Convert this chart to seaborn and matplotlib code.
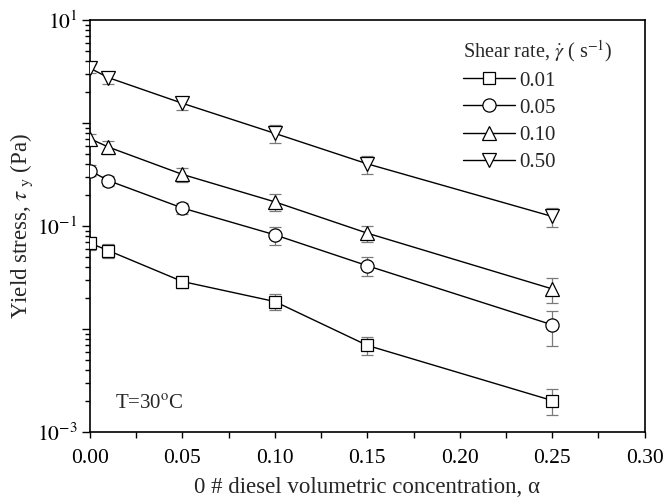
import numpy as np
import pandas as pd
import matplotlib
matplotlib.use("Agg")
import matplotlib.pyplot as plt
import seaborn as sns
from matplotlib.ticker import FixedLocator, FuncFormatter, MultipleLocator, LogLocator, NullFormatter

# ---- data ----
alpha = [0.00, 0.01, 0.05, 0.10, 0.15, 0.25]
rates = ["0.01", "0.05", "0.10", "0.50"]
tau_001 = [0.068, 0.0575, 0.0288, 0.0184, 0.0069, 0.00201]
tau_005 = [0.344, 0.275, 0.149, 0.0818, 0.041, 0.01093]
tau_010 = [0.703, 0.582, 0.316, 0.171, 0.0849, 0.0244]
tau_050 = [3.40, 2.75, 1.55, 0.791, 0.40, 0.1233]
err_001 = [0.010, 0.0085, 0.004, 0.0033, 0.00135, 0.00057]
err_005 = [0.042, 0.031, 0.019, 0.0165, 0.0085, 0.0041]
err_010 = [0.08, 0.085, 0.05, 0.032, 0.015, 0.0065]
err_050 = [0.35, 0.35, 0.22, 0.16, 0.08, 0.026]
x_ticks = [0.00, 0.05, 0.10, 0.15, 0.20, 0.25, 0.30]
y_decades = [-3, -2, -1, 0, 1]

series = [tau_001, tau_005, tau_010, tau_050]
errors = [err_001, err_005, err_010, err_050]
markers = ["s", "o", "^", "v"]
msizes = [8.5, 9.5, 10, 10]

sns.set_theme(style="ticks")
plt.rcParams.update({
    "font.family": ["Liberation Serif", "DejaVu Serif"],
    "mathtext.fontset": "stix",
    "axes.edgecolor": "black",
    "axes.linewidth": 1.2,
    "xtick.color": "black",
    "ytick.color": "black",
})

fig = plt.figure(figsize=(6.66, 4.98), dpi=100)
ax = fig.add_axes([0.135, 0.133, 0.833, 0.827])
ax.set_yscale("log")

for lab, y, e, m, ms in zip(rates, series, errors, markers, msizes):
    ax.errorbar(alpha, y, yerr=e, fmt="none", ecolor="#7a7a7a", elinewidth=0.9,
                capsize=4.5, capthick=0.9, zorder=2)
    sns.lineplot(x=alpha, y=y, marker=m, color="black", markerfacecolor="white",
                 markeredgecolor="black", markeredgewidth=0.9, markersize=ms,
                 linewidth=1.0, label=lab, ax=ax, zorder=3)

ax.set_xlim(0, 0.30)
ax.set_ylim(1e-3, 10)

ax.xaxis.set_major_locator(FixedLocator(x_ticks))
ax.xaxis.set_major_formatter(FuncFormatter(lambda v, p: f"{v:.2f}"))
ax.xaxis.set_minor_locator(MultipleLocator(0.025))

ax.yaxis.set_major_locator(FixedLocator([10.0 ** d for d in y_decades]))
ax.yaxis.set_major_formatter(FuncFormatter(
    lambda v, p: (r"$10^{%d}$" % round(np.log10(v))) if round(np.log10(v)) % 2 != 0 else ""))
ax.yaxis.set_minor_locator(LogLocator(base=10, subs=np.arange(2, 10)))
ax.yaxis.set_minor_formatter(NullFormatter())

ax.tick_params(axis="both", which="both", direction="out", top=False, right=False,
               labelsize=15.5, width=1.0)
ax.tick_params(axis="x", which="both", length=4.0, pad=8.5)
ax.tick_params(axis="y", which="major", length=6, pad=3)
ax.tick_params(axis="y", which="minor", length=3.5)

ax.set_xlabel("0 # diesel volumetric concentration, α", fontsize=16.5, labelpad=6.5)
ax.set_ylabel(r"Yield stress, $\tau_{\ \mathrm{y}}$ (Pa)", fontsize=16.5, labelpad=1)

ax.text(0.045, 0.066, r"T=30$^{\mathrm{o}}$C", transform=ax.transAxes,
        fontsize=15, va="center", ha="left")

leg = ax.legend(title=r"Shear rate, $\dot{\gamma}$ ( s$^{-1}$)", loc="upper left",
                bbox_to_anchor=(0.672, 0.957), frameon=False, fontsize=15,
                title_fontsize=14.5, borderpad=0, borderaxespad=0, handlelength=2.5,
                handletextpad=0.2, labelspacing=0.36)
leg._legend_box.align = "left"

fig.savefig("out.png", dpi=100)
